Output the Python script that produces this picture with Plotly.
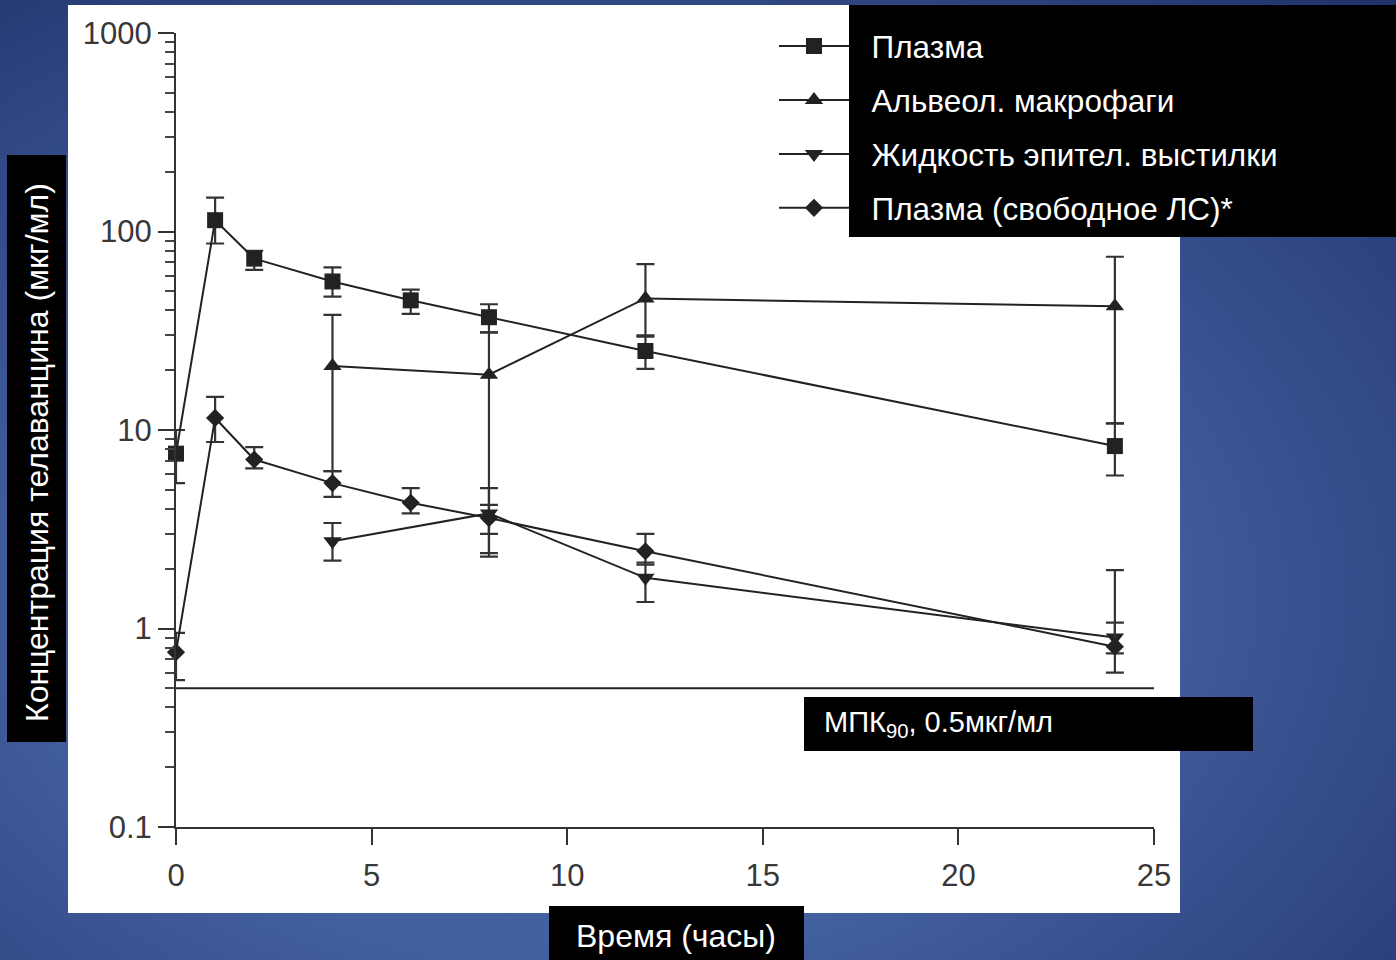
import base64
import plotly.graph_objects as go

# ---- data (concentration, µg/mL; time, hours) ----
t_plasma = [0, 1, 2, 4, 6, 8, 12, 24]
plasma = [7.6, 114, 73, 56, 45, 37, 25, 8.3]
plasma_hi = [10, 148, 80, 66, 51, 43, 29.5, 10.8]
plasma_lo = [5.4, 87, 64, 47, 38.5, 31, 20.3, 5.9]

t_am = [4, 8, 12, 24]
am = [21, 19, 46, 42]
am_hi = [38, 31, 68.5, 74.6]
am_lo = [6.2, 2.3, 30, 10.8]

t_elf = [4, 8, 12, 24]
elf = [2.75, 3.8, 1.8, 0.9]
elf_hi = [3.4, 5.1, 2.15, 1.97]
elf_lo = [2.2, 2.4, 1.36, 0.75]

t_free = [0, 1, 2, 4, 6, 8, 12, 24]
free = [0.76, 11.5, 7.1, 5.4, 4.3, 3.6, 2.45, 0.81]
free_hi = [0.95, 14.7, 8.2, 6.2, 5.1, 4.2, 3.0, 1.07]
free_lo = [0.55, 8.7, 6.4, 4.6, 3.8, 3.0, 2.1, 0.6]

mic90 = 0.5
mic_x = [0, 25.1]

series_names = ["Плазма", "Альвеол. макрофаги", "Жидкость эпител. выстилки", "Плазма (свободное ЛС)*"]
y_ticks = [0.1, 1, 10, 100, 1000]
y_ticktext = ["0.1", "1", "10", "100", "1000"]
x_ticks = [0, 5, 10, 15, 20, 25]

# ---- page geometry ----
W, H = 1396, 960
L, R, T, B = 176, 242, 33, 133
PW, PH = W - L - R, H - T - B


def px(xp):
    return (xp - L) / PW


def py(yp):
    return (H - B - yp) / PH


FONT = "Liberation Sans, Arial, Helvetica, sans-serif"
INK = "#222222"
NBSP = "\u00a0\u00a0"

fig = go.Figure()

specs = [
    (t_plasma, plasma, plasma_hi, plasma_lo, "square", 16),
    (t_am, am, am_hi, am_lo, "triangle-up", 16),
    (t_elf, elf, elf_hi, elf_lo, "triangle-down", 16),
    (t_free, free, free_hi, free_lo, "diamond", 14),
]
for i, (t, y, hi, lo, sym, size) in enumerate(specs):
    fig.add_trace(go.Scatter(
        x=t, y=y, name=NBSP + series_names[i], legendgroup=f"g{i}",
        mode="lines+markers",
        line=dict(color=INK, width=2),
        marker=dict(symbol=sym, size=size, color=INK),
        error_y=dict(type="data", symmetric=False,
                     array=[h - v for h, v in zip(hi, y)],
                     arrayminus=[v - l for v, l in zip(y, lo)],
                     color="#333333", thickness=2.2, width=9),
        cliponaxis=False,
    ))

# MIC90 reference line
fig.add_trace(go.Scatter(
    x=mic_x, y=[mic90, mic90], mode="lines", showlegend=False,
    line=dict(color=INK, width=2), cliponaxis=False, hoverinfo="skip",
))

# slide background: radial blue gradient
svg = f"""<svg xmlns='http://www.w3.org/2000/svg' width='{W}' height='{H}'>
<defs><radialGradient id='g' cx='0.42' cy='0.62' r='0.85'>
<stop offset='0' stop-color='#4a67aa'/>
<stop offset='0.45' stop-color='#425f9f'/>
<stop offset='1' stop-color='#1f3168'/>
</radialGradient></defs>
<rect width='{W}' height='{H}' fill='url(#g)'/></svg>"""
bg_uri = "data:image/svg+xml;base64," + base64.b64encode(svg.encode()).decode()

shapes = [
    # white chart panel
    dict(type="rect", xref="paper", yref="paper", x0=px(68), x1=px(1180), y0=py(913), y1=py(5),
         fillcolor="white", line=dict(width=0), layer="below"),
]
# black caption boxes
for (x0, y0, x1, y1) in [(849, 5, 1396, 237), (7, 155, 66, 742), (804, 697, 1253, 751), (549, 906, 804, 960)]:
    shapes.append(dict(type="rect", xref="paper", yref="paper", x0=px(x0), x1=px(x1), y0=py(y1), y1=py(y0),
                       fillcolor="black", line=dict(width=0), layer="above"))

annotations = [
    dict(text="Концентрация телаванцина (мкг/мл)", textangle=-90, xref="paper", yref="paper",
         x=px(37), y=py(453), showarrow=False, font=dict(family=FONT, size=32, color="white"),
         xanchor="center", yanchor="middle"),
    dict(text="Время (часы)", xref="paper", yref="paper", x=px(676), y=py(936), showarrow=False,
         font=dict(family=FONT, size=32, color="white"), xanchor="center", yanchor="middle"),
    dict(text="МПК<sub>90</sub>, 0.5мкг/мл", xref="paper", yref="paper", x=px(822), y=py(724),
         showarrow=False, font=dict(family=FONT, size=29, color="white"), xanchor="left", yanchor="middle"),
]

fig.update_layout(
    width=W, height=H,
    margin=dict(l=L, r=R, t=T, b=B, pad=0),
    paper_bgcolor="#3f5b9c", plot_bgcolor="rgba(0,0,0,0)",
    images=[dict(source=bg_uri, xref="paper", yref="paper", x=px(0), y=py(0),
                 sizex=W / PW, sizey=H / PH, xanchor="left", yanchor="top",
                 sizing="stretch", layer="below")],
    shapes=shapes,
    annotations=annotations,
    showlegend=True,
    legend=dict(x=px(774), y=py(19), xanchor="left", yanchor="top", xref="paper", yref="paper",
                bgcolor="rgba(0,0,0,0)", borderwidth=0,
                font=dict(family=FONT, size=31.5, color="white"),
                itemwidth=70, tracegroupgap=10, itemclick=False),
    xaxis=dict(range=[0, 25], tickvals=x_ticks, showgrid=False, zeroline=False,
               showline=True, linecolor="#333333", linewidth=2,
               ticks="outside", ticklen=16, tickwidth=2, tickcolor="#333333",
               ticklabelstandoff=4,
               tickfont=dict(family=FONT, size=31, color="#383838")),
    yaxis=dict(type="log", range=[-1, 3], tickvals=y_ticks, ticktext=y_ticktext,
               showgrid=False, zeroline=False,
               showline=True, linecolor="#333333", linewidth=2,
               ticks="outside", ticklen=16, tickwidth=2, tickcolor="#333333",
               tickfont=dict(family=FONT, size=31, color="#383838"),
               minor=dict(ticks="outside", ticklen=9, tickwidth=2, tickcolor="#444444",
                          dtick="D1", showgrid=False)),
    font=dict(family=FONT),
)

fig.write_html("out.html")
